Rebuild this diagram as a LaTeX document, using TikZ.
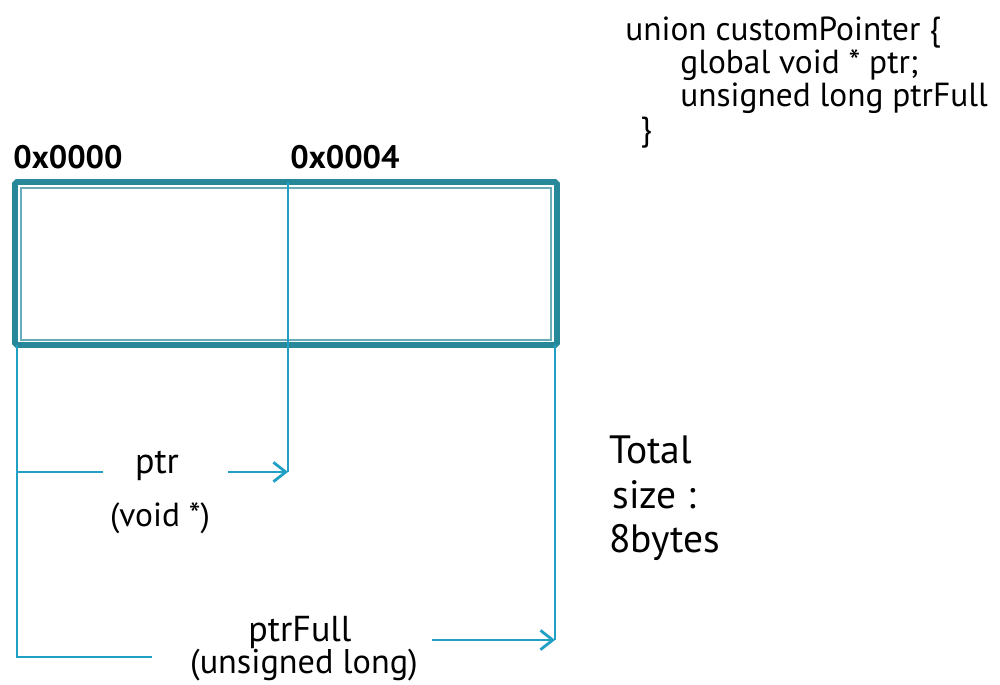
\documentclass[tikz,border=0pt]{standalone}
\usepackage{fontspec}
\setmainfont{PT Sans}
\usetikzlibrary{arrows.meta}
\definecolor{frame}{RGB}{38,136,152}
\definecolor{wire}{RGB}{32,160,196}
\tikzset{
  px/.style={x=0.02cm,y=-0.02cm},
  wireline/.style={draw=wire,line width=1.6pt},
  arr/.style={wireline,-{Straight Barb[length=7pt,width=11pt,line width=1.6pt]}},
  big/.style={inner sep=0pt,font=\fontsize{22.5}{27}\selectfont},
  lbl/.style={inner sep=0pt,font=\fontsize{20.5}{24}\selectfont},
  sub/.style={inner sep=0pt,font=\fontsize{19}{22}\selectfont},
  addr/.style={inner sep=0pt,font=\bfseries\fontsize{18.5}{21}\selectfont},
  code/.style={inner sep=0pt,anchor=base west,font=\fontsize{19}{22}\selectfont},
}
\begin{document}
\begin{tikzpicture}[px]
\useasboundingbox (0,0) rectangle (1000,684);
% box
\draw[draw=frame,line width=3.2pt,rounded corners=1pt] (15,182) rectangle (557,345);
\draw[draw=frame!70,line width=0.9pt] (21,188) rectangle (551,340);
% addresses
\node[addr,anchor=base west] (a0) at (13,168) {0x0000};
\node[addr,anchor=base west] (a4) at (290,168) {0x0004};
% coordinates
\coordinate (dtop) at (288,182);
\coordinate (dbot) at (288,472);
\coordinate (ltop) at (17,345);
\coordinate (lptr) at (17,472);
\coordinate (lbot) at (17,657);
\coordinate (pfend) at (152,657);
\coordinate (ptrend) at (103,472);
\coordinate (rtop) at (555,345);
\coordinate (rbot) at (555,640);
\coordinate (ptrstart) at (228,472);
\coordinate (pfstart) at (432,640);
% lines
\draw[wireline] (dtop) -- (dbot);
\draw[wireline] (ltop) -- (lbot) -- (pfend);
\draw[wireline] (lptr) -- (ptrend);
\draw[wireline] (rtop) -- (rbot);
\draw[arr] (ptrstart) -- (dbot);
\draw[arr] (pfstart) -- (rbot);
% labels
\node[lbl] (ptr) at (157,466) {ptr};
\node[sub] (ptrt) at (160,518) {(void *)};
\node[lbl] (pf) at (300,632) {ptrFull};
\node[sub,font=\fontsize{19.5}{23}\selectfont] (pft) at (304,665) {(unsigned long)};
% total
\node[big,anchor=base west] (t1) at (609,463) {Total};
\node[big,anchor=base west] (t2) at (612,508) {size :};
\node[big,anchor=base west] (t3) at (609,552) {8bytes};
% code
\node[code] (c1) at (625,40) {union customPointer \{};
\node[code] (c2) at (680,73) {global void * ptr;};
\node[code] (c3) at (680,106) {unsigned long ptrFull};
\node[code] (c4) at (640,140) {\}};
\end{tikzpicture}
\end{document}
